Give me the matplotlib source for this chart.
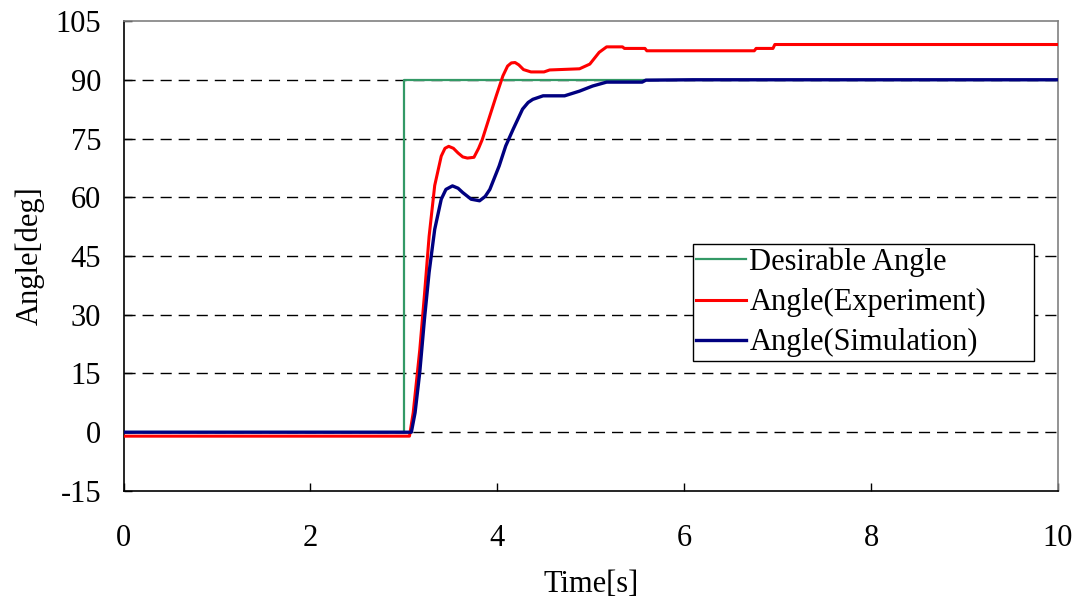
import numpy as np
import matplotlib
matplotlib.use("Agg")
import matplotlib.pyplot as plt

plt.rcParams['font.family'] = ['Liberation Serif', 'DejaVu Serif']
plt.rcParams['axes.unicode_minus'] = False

# reference step command
tDesired = [0, 3.0, 3.0, 10]
angleDesired = [0, 0, 90, 90]

# measured response
tExp = [0, 3.06, 3.10, 3.17, 3.22, 3.27, 3.33, 3.40, 3.44, 3.48, 3.53, 3.58,
        3.63, 3.68, 3.75, 3.80, 3.84, 3.92, 3.99, 4.06, 4.11, 4.15, 4.19,
        4.23, 4.28, 4.36, 4.50, 4.56, 4.88, 4.99, 5.09, 5.17, 5.34, 5.36,
        5.58, 5.60, 6.75, 6.77, 6.95, 6.97, 10]
angleExp = [-1, -1, 5, 21, 35, 50, 63, 70.5, 72.5, 73, 72.5, 71.3,
            70.3, 70, 70.2, 72.5, 74.8, 80.8, 86, 91, 93.5, 94.3, 94.4,
            93.8, 92.6, 92, 92, 92.5, 92.8, 94, 97, 98.4, 98.4, 98,
            98, 97.4, 97.4, 98, 98, 99, 99]

# simulated response
tSim = [0, 3.08, 3.12, 3.17, 3.22, 3.27, 3.33, 3.40, 3.45, 3.52, 3.58, 3.63,
        3.72, 3.81, 3.87, 3.92, 4.02, 4.09, 4.17, 4.27, 4.33, 4.38, 4.49,
        4.72, 4.88, 5.02, 5.17, 5.55, 5.59, 6.09, 10]
angleSim = [0, 0, 5, 15.3, 28.8, 40.8, 51.8, 59.5, 62, 62.9, 62.3, 61.2,
            59.5, 59.1, 60.2, 62, 68, 73.1, 77.4, 82.5, 84.2, 85, 85.9,
            85.9, 87.1, 88.4, 89.4, 89.4, 89.9, 90, 90]

xTicks = np.arange(0, 11, 2)
yTicks = np.arange(-15, 106, 15)
fontSize = 22

fig = plt.figure(figsize=(10.79, 5.97), dpi=100)
ax = fig.add_axes([0.1145, 0.1776, 0.866, 0.7872])

# dashed grid, skipping the frame edges
for y in yTicks[1:-1]:
    ax.axhline(y, color='k', lw=1.0, ls=(0, (8, 5)), zorder=1)

ax.plot(tDesired, angleDesired, color='#339966', lw=1.6, label='Desirable Angle', zorder=2)
ax.plot(tExp, angleExp, color='#FF0000', lw=2.2, label='Angle(Experiment)', zorder=3)
ax.plot(tSim, angleSim, color='#000080', lw=2.4, label='Angle(Simulation)', zorder=4)

ax.set_xlim(0, 10)
ax.set_ylim(-15, 105)
ax.set_xticks(xTicks)
ax.set_yticks(yTicks)
ax.tick_params(direction='in', length=6, width=1, labelsize=fontSize)
ax.tick_params(axis='x', pad=24)
ax.tick_params(axis='y', pad=16)

for side in ['top', 'right']:
    ax.spines[side].set_color('#808080')
for side in ['left', 'bottom']:
    ax.spines[side].set_color('k')
for s in ax.spines.values():
    s.set_linewidth(1.2)

ax.set_xlabel('Time[s]', fontsize=fontSize, labelpad=12)
ax.set_ylabel('Angle[deg]', fontsize=fontSize, labelpad=8)

leg = ax.legend(loc='upper left', bbox_to_anchor=(0.609, 0.281, 0.365, 0.2445),
                mode='expand', fontsize=fontSize,
                frameon=True, fancybox=False, edgecolor='k', framealpha=1,
                handlelength=1.64, handletextpad=0.1, labelspacing=0.36,
                borderpad=0.12, borderaxespad=0)
leg.get_frame().set_linewidth(1.0)
leg.set_zorder(5)

fig.savefig('out.png', dpi=100)
